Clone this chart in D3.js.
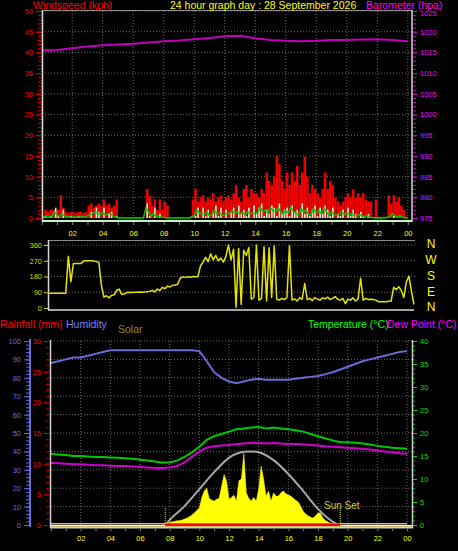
<!DOCTYPE html>
<html><head><meta charset="utf-8">
<script src="https://cdn.jsdelivr.net/npm/d3@7"></script>
<style>html,body{margin:0;padding:0;background:#000;overflow:hidden}svg{display:block}text{font-family:"Liberation Sans",Arial,sans-serif}</style>
</head><body><svg id="c" width="458" height="551"></svg>
<script>
// ---------------- DATA ----------------
const titleText = "24 hour graph day : 28 September 2026";
const labelHours = [2,4,6,8,10,12,14,16,18,20,22,24];
const labelTexts = ["02","04","06","08","10","12","14","16","18","20","22","00"];
const gridHours = [0,2,4,6,8,10,12,14,16,18,20,22,24];

// wind, 10-minute samples (kph)
const windGust = [0,2,1.5,2,2,1.8,2,5.5,2.5,1.5,
 1.2,1.5,1.5,1.2,1.5,1.5,1.2,1.5,3,3.5,
 2.5,3,3.5,3,4.5,3,3.5,2.5,3,4.5,
 0,0,0,0,0,0,0,0,0,0,
 0,7,5.3,3,4.5,2,4.5,2,3.9,3,
 0,0,0,0,0,0,0,0,0,4.5,
 7,4,5,5.5,4,5,4.5,6,4,5,
 5.5,4,5,5.5,4.5,6,8,5,4,7,
 8,5,7,6,6,5,7,6,11,9,
 8,10,15,13,9,7,11,8,11,9,
 12.6,8,11,14.8,10,6,8,7,6,5,
 7,11,7,9,8,5,4,3,4,5,
 6,5,7,5,6,5,6,4.5,4,4,
 0.3,4.5,0.3,0.3,0.3,0.3,5.5,3.5,5.5,4,
 5,3,2,0.3];
const windAvg = [0,0.5,0,0.5,0,2.5,0.5,0,2,0,
 0,0.5,0,0,0.5,0,0,0,0,1.5,
 0,2.5,1.5,0,2.5,0,1,1.5,0,0.5,
 0,0,0,0,0,0,0,0,0,0,
 0,3.5,0.5,0,2.5,0,1,0,0,0,
 0,0,0,0,0,0,0,0,0,0,
 0.5,2.5,0,2.5,0.5,2,0,1.5,3,0.5,
 2.5,0,2,0,1.5,2.5,0,3,1,2,
 0.5,2.5,0,3,1,2.5,3.5,0.5,2,1,
 3,2.5,0.5,3.5,1,2,2.5,0.5,3,1.5,
 2,0,3.5,1,2.5,0.5,2,3,0.5,2.5,
 1,3,2,0.5,2.5,0,1,0.5,2,0,
 2.5,0.5,2,1,0,1.5,0.5,0,1,0,
 0,0,0,0,0,0,0,0,0.5,0,
 0,0,0,0];
const windMean = [0,0.3,0.5,0.3,0.2,1.5,0.8,0.3,1.0,0.5,
 0.3,0.2,0.2,0.3,0.2,0.2,0.3,0.2,0.5,0.8,
 1.0,1.5,1.2,0.8,1.3,0.7,1.0,1.2,0.5,0.3,
 0,0,0,0,0,0,0,0,0,0,
 0,2.4,1.5,0.5,1.0,0.4,0.5,0.2,0.2,0,
 0,0,0,0,0,0,0,0,0,0.3,
 0.5,2.0,1.2,1.0,0.8,1.5,0.5,0.8,1.8,1.0,
 1.3,0.6,0.8,1.2,1.0,1.8,1.2,1.5,1.0,1.3,
 0.8,1.5,1.0,1.2,1.0,1.4,2.5,1.5,1.8,1.2,
 2.5,1.8,1.5,2.5,1.5,1.0,1.8,1.2,2.6,1.5,
 1.2,0.6,2.2,1.5,1.8,0.8,1.0,2.2,1.2,1.8,
 1.0,2.4,1.5,0.6,1.5,0.8,0.6,0.8,1.5,0.8,
 1.2,0.8,1.0,0.6,0.5,0.8,0.5,0.3,0.6,0.2,
 0.1,0,0,0,0,0,0.2,0.3,1.0,0.5,
 0.3,0.5,0.2,0,0];
const windStepHours = 1/6;

// barometer, hourly (hPa)
const baro = [1015.5,1015.6,1016.0,1016.4,1016.7,1016.9,1017.1,1017.4,1017.7,1017.9,1018.2,1018.5,1018.9,
 1019.0,1018.4,1018.0,1017.8,1017.7,1017.8,1018.0,1018.0,1018.1,1018.2,1018.0,1017.7];

// wind direction, 10-minute samples (degrees)
const windDir = [85,85,85,85,85,85,85,85,295,150,
 255,255,255,255,268,270,270,270,268,265,
 262,130,62,70,58,72,75,100,108,78,
 80,88,90,88,90,90,92,90,92,93,
 95,100,92,108,100,118,110,125,120,130,
 132,135,170,178,175,178,176,180,178,180,
 240,262,290,265,310,275,300,270,285,262,
 295,360,275,335,5,340,20,330,300,345,
 50,60,360,45,55,350,40,345,60,355,
 50,45,55,48,60,355,45,52,40,58,
 50,140,48,55,42,60,50,45,58,52,
 62,48,55,65,50,45,55,25,50,45,
 58,40,52,170,45,55,48,50,48,45,
 36,36,36,36,38,40,118,105,122,100,
 60,150,182,95,20];
const compassLabels = ["N","W","S","E","N"];
const compassDeg = [360,270,180,90,0];

// bottom panel, 30-minute samples
const humidity = [88,89,90,91,91,92,93,94,95,95,95,95,95,95,95,95,95,95,95,95,
 94.5,89,83,80,78,77,78,79,79.5,79,79,79,79,79.5,80,80.5,81,82,83,84.5,
 86,87.5,89,90,91,92,93,94,94.5];
const temperature = [15.5,15.3,15.2,15.0,15.0,14.9,14.8,14.8,14.7,14.6,14.5,14.4,14.2,14.0,13.8,13.6,13.6,14.0,14.8,15.8,
 17.0,18.5,19.3,19.8,20.3,20.8,21.0,21.2,21.3,21.0,21.2,21.0,20.8,20.6,20.3,19.8,19.3,18.8,18.4,18.0,
 18.0,17.9,17.7,17.5,17.2,17.0,16.8,16.7,16.6];
const dewPoint = [13.5,13.4,13.3,13.2,13.2,13.1,13.0,13.0,12.9,12.8,12.8,12.7,12.6,12.5,12.4,12.4,12.5,12.8,13.6,14.8,
 16.0,16.8,17.1,17.3,17.4,17.6,17.7,17.8,17.8,17.7,17.8,17.7,17.6,17.6,17.5,17.4,17.3,17.1,17.0,16.9,
 16.8,16.7,16.6,16.4,16.2,16.0,15.8,15.6,15.5];
const halfHourStep = 0.5;

// solar (W/m2), 10-minute samples from 07:30
const solarStartHour = 7.5;
const solar = [0,0,15,30,35,40,45,50,55,65,75,90,110,130,160,185,300,370,400,290,
 270,260,280,290,420,550,480,280,300,325,260,480,500,780,350,290,260,300,260,390,
 640,500,315,370,260,350,315,315,350,370,340,325,315,290,270,250,205,150,120,100,
 85,75,100,130,130,75,50,35,20,10,0];
const solarMaxHours = [7.68,8,9,10,11,12,13,13.5,14,15,16,17,18,19,19.45];
const solarMax = [0,55,205,390,575,730,795,800,790,705,555,370,175,35,0];
const sunriseHour = 7.7, sunsetHour = 19.5;
const rainfall = [0,0,0,0,0,0,0,0,0,0,0,0,0,0,0,0,0,0,0,0,0,0,0,0,0];

// ---------------- DRAW ----------------
(function(){
const svg = d3.select("#c");
svg.append("rect").attr("width",458).attr("height",551).attr("fill","#000");
const TF = 7.5; // tick font size
const gridColor = "#6c6c6c";

function styleAxis(g, color, size) {
  g.select(".domain").remove();
  g.selectAll("line").attr("stroke", color);
  g.selectAll("text").attr("fill", color).attr("font-size", size || TF)
    .attr("font-family", '"Liberation Sans", Arial, sans-serif');
}
function header(x, y, s, color, size, anchor) {
  svg.append("text").attr("x", x).attr("y", y).text(s).attr("fill", color)
    .attr("font-size", size).attr("text-anchor", anchor || "start");
}

// ===== TOP PANEL: wind speed & barometer =====
const xT = d3.scaleLinear().domain([0,24]).range([41.7,407.8]);
const yW = d3.scaleLinear().domain([0,50]).range([218,11]);
const yBa = d3.scaleLinear().domain([975,1025]).range([218,11]);
const topG = svg.append("g");
topG.append("g").selectAll("line").data(d3.range(5,51,5)).join("line")
  .attr("x1",42).attr("x2",412).attr("y1",d=>yW(d)).attr("y2",d=>yW(d))
  .attr("stroke",gridColor).attr("stroke-dasharray","1,2");
topG.append("g").selectAll("line").data(gridHours).join("line")
  .attr("x1",d=>xT(d)).attr("x2",d=>xT(d)).attr("y1",11).attr("y2",218)
  .attr("stroke",gridColor).attr("stroke-dasharray","1,2");
topG.append("line").attr("x1",xT(0)).attr("x2",xT(24)).attr("y1",yW(0)-0.5).attr("y2",yW(0)-0.5)
  .attr("stroke","#a00000").attr("stroke-width",1);
topG.append("path").datum(baro).attr("fill","none").attr("stroke","#c000c0").attr("stroke-width",2)
  .attr("d", d3.line().x((d,i)=>xT(i)).y(d=>yBa(d)));
const bw = xT(windStepHours)-xT(0);
topG.append("g").selectAll("rect").data(windGust).join("rect")
  .attr("x",(d,i)=>xT(i*windStepHours)).attr("width",bw)
  .attr("y",d=>yW(d)).attr("height",d=>yW(0)-yW(d)).attr("fill","#f00000");
topG.append("g").selectAll("rect").data(windAvg).join("rect")
  .attr("x",(d,i)=>xT(i*windStepHours)+0.5).attr("width",1.6)
  .attr("y",d=>yW(d)).attr("height",d=>yW(0)-yW(d)).attr("fill","#d0f0d0");
topG.append("path").datum(windMean).attr("fill","none").attr("stroke","#00c800").attr("stroke-width",1.5)
  .attr("d", d3.line().x((d,i)=>xT(i*windStepHours)).y(d=>yW(d)));
topG.append("line").attr("x1",42).attr("x2",412).attr("y1",10.5).attr("y2",10.5).attr("stroke","#909090");
topG.append("line").attr("x1",42.5).attr("x2",42.5).attr("y1",10).attr("y2",222).attr("stroke","#d8d8d8").attr("stroke-width",1.5);
topG.append("line").attr("x1",412).attr("x2",412).attr("y1",10).attr("y2",222).attr("stroke","#d8d8d8").attr("stroke-width",1.5);
topG.append("line").attr("x1",42).attr("x2",412).attr("y1",221).attr("y2",221).attr("stroke","#c8f0c8").attr("stroke-width",2);
const aL = topG.append("g").attr("transform","translate(41,0)")
  .call(d3.axisLeft(yW).tickValues(d3.range(0,51,5)).tickSize(5).tickPadding(3));
styleAxis(aL,"#ff0000");
const aLm = topG.append("g").attr("transform","translate(41,0)")
  .call(d3.axisLeft(yW).tickValues(d3.range(0,51,1)).tickSize(3).tickFormat(""));
styleAxis(aLm,"#e00000");
const aR = topG.append("g").attr("transform","translate(413,0)")
  .call(d3.axisRight(yBa).tickValues(d3.range(975,1026,5)).tickSize(4).tickPadding(3).tickFormat(d3.format("d")));
styleAxis(aR,"#ff00ff");
aR.selectAll("text").filter(d=>d===1025).attr("dy","0.6em");
const aRm = topG.append("g").attr("transform","translate(413,0)")
  .call(d3.axisRight(yBa).tickValues(d3.range(975,1026,1)).tickSize(3).tickFormat(""));
styleAxis(aRm,"#d000d0");
const aBm = topG.append("g").attr("transform","translate(0,222)")
  .call(d3.axisBottom(xT).tickValues(d3.range(0,25,1)).tickSize(3).tickFormat(""));
styleAxis(aBm,"#808080");
const aB = topG.append("g").attr("transform","translate(0,230)")
  .call(d3.axisBottom(xT).tickValues(labelHours).tickSize(0).tickPadding(1).tickFormat((d,i)=>labelTexts[i]));
styleAxis(aB,"#ffff00");

header(33,8.5,"Windspeed (kph)","#ff0000",10.5);
header(170,8.5,titleText,"#ffff00",10.5);
header(366,8.5,"Barometer (hpa)","#ff00ff",10.5);

// ===== MIDDLE PANEL: wind direction =====
const xD = d3.scaleLinear().domain([0,24]).range([48,414]);
const yD = d3.scaleLinear().domain([0,360]).range([308,245]);
const mid = svg.append("g");
mid.append("g").selectAll("line").data([90,180,270,360]).join("line")
  .attr("x1",48).attr("x2",415).attr("y1",d=>yD(d)).attr("y2",d=>yD(d))
  .attr("stroke",gridColor).attr("stroke-dasharray","1,2");
mid.append("line").attr("x1",48).attr("x2",415).attr("y1",240.5).attr("y2",240.5).attr("stroke","#8a8a8a");
mid.append("line").attr("x1",48).attr("x2",414).attr("y1",310).attr("y2",310).attr("stroke","#d8d8d8").attr("stroke-width",1.5);
mid.append("line").attr("x1",48.5).attr("x2",48.5).attr("y1",240).attr("y2",310).attr("stroke","#d8d8d8").attr("stroke-width",1.5);
mid.append("path").datum(windDir).attr("fill","none").attr("stroke","#e4e400").attr("stroke-width",1.5)
  .attr("stroke-linejoin","round")
  .attr("d", d3.line().x((d,i)=>xD(i*windStepHours)).y(d=>yD(d)));
const aD = mid.append("g").attr("transform","translate(48,0)")
  .call(d3.axisLeft(yD).tickValues([0,90,180,270,360]).tickSize(4).tickPadding(2));
styleAxis(aD,"#d8d800");
mid.append("g").selectAll("text").data(compassLabels).join("text")
  .attr("x",431).attr("y",(d,i)=>yD(compassDeg[i])-1).attr("dy","0.36em")
  .attr("text-anchor","middle").attr("fill","#ffff00").attr("font-size",12).text(d=>d);

// ===== BOTTOM PANEL =====
const xS = d3.scaleLinear().domain([0,24]).range([51,407]);
const yH = d3.scaleLinear().domain([0,100]).range([525,341]);
const yR = d3.scaleLinear().domain([0,30]).range([525,341]);
const yT = d3.scaleLinear().domain([0,40]).range([525,341]);
const yS = d3.scaleLinear().domain([0,2000]).range([525,341]);
const bot = svg.append("g");
bot.append("g").selectAll("line").data(d3.range(10,101,10)).join("line")
  .attr("x1",51).attr("x2",412).attr("y1",d=>yH(d)).attr("y2",d=>yH(d))
  .attr("stroke",gridColor).attr("stroke-dasharray","1,2");
bot.append("g").selectAll("line").data(gridHours.slice(1)).join("line")
  .attr("x1",d=>xS(d)).attr("x2",d=>xS(d)).attr("y1",341).attr("y2",525)
  .attr("stroke",gridColor).attr("stroke-dasharray","1,2");
bot.append("path").datum(solar).attr("fill","#ffff00").attr("stroke","#f0f000").attr("stroke-width",0.5)
  .attr("d", d3.area().x((d,i)=>xS(solarStartHour+i*windStepHours)).y0(yS(0)).y1(d=>yS(d)));
bot.append("path").datum(solarMax).attr("fill","none").attr("stroke","#a8a8a8").attr("stroke-width",2)
  .attr("d", d3.line().curve(d3.curveMonotoneX).x((d,i)=>xS(solarMaxHours[i])).y(d=>yS(d)));
bot.append("g").selectAll("line").data([sunriseHour,sunsetHour]).join("line")
  .attr("x1",d=>xS(d)).attr("x2",d=>xS(d)).attr("y1",508).attr("y2",524)
  .attr("stroke","#e8e800").attr("stroke-dasharray","1,1");
bot.append("text").attr("x",324).attr("y",509).text("Sun Set").attr("fill","#d0d030").attr("font-size",10);
const lh = (arr, sc) => d3.line().x((d,i)=>xS(i*halfHourStep)).y(d=>sc(d))(arr);
bot.append("path").attr("d",lh(humidity,yH)).attr("fill","none").attr("stroke","#6a6ad8").attr("stroke-width",2);
bot.append("path").attr("d",lh(dewPoint,yT)).attr("fill","none").attr("stroke","#d000d0").attr("stroke-width",2);
bot.append("path").attr("d",lh(temperature,yT)).attr("fill","none").attr("stroke","#00c800").attr("stroke-width",2);
bot.append("line").attr("x1",51).attr("x2",412).attr("y1",525.8).attr("y2",525.8).attr("stroke","#ffff90").attr("stroke-width",1.8);
bot.append("path").datum(rainfall).attr("fill","none").attr("stroke","#f0a090").attr("stroke-width",1.4)
  .attr("d", d3.line().x((d,i)=>xS(i)).y(d=>yR(d)-1.3));
bot.append("line").attr("x1",xS(sunriseHour)).attr("x2",xS(sunsetHour)).attr("y1",yR(0)-0.3).attr("y2",yR(0)-0.3)
  .attr("stroke","#ff0000").attr("stroke-width",2.6);
bot.append("line").attr("x1",50.5).attr("x2",50.5).attr("y1",340).attr("y2",528).attr("stroke","#d0d0d0").attr("stroke-width",1.5);
bot.append("line").attr("x1",412.5).attr("x2",412.5).attr("y1",340).attr("y2",528).attr("stroke","#d0d0d0").attr("stroke-width",1.5);
bot.append("line").attr("x1",50).attr("x2",413).attr("y1",527.8).attr("y2",527.8).attr("stroke","#d0d0d0").attr("stroke-width",1.5);
bot.append("line").attr("x1",30).attr("x2",30).attr("y1",339).attr("y2",527).attr("stroke","#6a6ae0").attr("stroke-width",2);
const aH = bot.append("g").attr("transform","translate(29,0)")
  .call(d3.axisLeft(yH).tickValues(d3.range(0,101,10)).tickSize(5).tickPadding(3));
styleAxis(aH,"#6a6ae0");
const aHm = bot.append("g").attr("transform","translate(29,0)")
  .call(d3.axisLeft(yH).tickValues(d3.range(0,101,2)).tickSize(3).tickFormat(""));
styleAxis(aHm,"#6a6ae0");
const aRn = bot.append("g").attr("transform","translate(49,0)")
  .call(d3.axisLeft(yR).tickValues(d3.range(0,31,5)).tickSize(5).tickPadding(3));
styleAxis(aRn,"#ff0000");
const aRnm = bot.append("g").attr("transform","translate(49,0)")
  .call(d3.axisLeft(yR).tickValues(d3.range(0,31,1)).tickSize(3).tickFormat(""));
styleAxis(aRnm,"#c00000");
const aTm = bot.append("g").attr("transform","translate(413,0)")
  .call(d3.axisRight(yT).tickValues(d3.range(0,41,1)).tickSize(2).tickFormat(""));
styleAxis(aTm,"#00c000");
const aTr = bot.append("g").attr("transform","translate(413,0)")
  .call(d3.axisRight(yT).tickValues(d3.range(0,41,5)).tickSize(4).tickPadding(3));
styleAxis(aTr,"#00e000");
const aSm = bot.append("g").attr("transform","translate(0,529)")
  .call(d3.axisBottom(xS).tickValues(d3.range(0,25,1)).tickSize(2).tickFormat(""));
styleAxis(aSm,"#808080");
const aSb = bot.append("g").attr("transform","translate(0,535)")
  .call(d3.axisBottom(xS).tickValues(labelHours).tickSize(0).tickPadding(1).tickFormat((d,i)=>labelTexts[i]));
styleAxis(aSb,"#ffff00");

header(0,328,"Rainfall (mm)","#ff0000",10.5);
header(66,328,"Humidity","#8080ff",10.5);
header(118,333,"Solar","#8c8c20",10.5);
header(308,328,"Temperature (°C)","#00ff00",10.5);
header(387,328,"Dew Point (°C)","#ff00ff",10.5);
})();
</script></body></html>
